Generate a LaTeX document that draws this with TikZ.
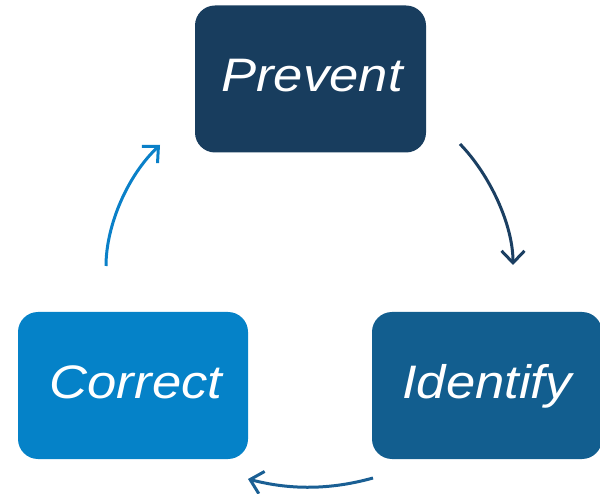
\documentclass[tikz,border=0pt]{standalone}
\usepackage{fontspec}
\setmainfont{Liberation Sans}
\newfontfamily\stagefont[FakeStretch=1.12]{Liberation Sans}
\usetikzlibrary{arrows.meta}
\definecolor{cPrevent}{HTML}{183D5E}
\definecolor{cIdentify}{HTML}{125E8F}
\definecolor{cCorrect}{HTML}{0582C8}
\definecolor{aPrevent}{HTML}{1B3F62}
\definecolor{aIdentify}{HTML}{1A5F94}
\definecolor{aCorrect}{HTML}{0A80C8}
\tikzset{
  stagebox/.style={rectangle, rounded corners=20pt, inner sep=0pt,
    minimum height=147pt, text=white,
    font=\stagefont\fontsize{47}{50}\selectfont\itshape,
    text height=34pt, text depth=8pt},
  cyclearrow/.style={line width=3pt,
    -{Straight Barb[length=12pt,width=23pt,line width=3pt]}},
}
\begin{document}
\begin{tikzpicture}[x=1pt,y=-1pt]
\useasboundingbox (0,0) rectangle (600,494);
\node[stagebox, fill=cPrevent, minimum width=231pt] (prevent) at (310.5,79) {\hspace*{3pt}Prevent};
\node[stagebox, fill=cCorrect, minimum width=230pt] (correct) at (133,385.5) {\hspace*{6pt}Correct};
\node[stagebox, fill=cIdentify, minimum width=230pt] (identify) at (487,385.5) {Identify};
\coordinate (p1) at (460,144);
\coordinate (i1) at (513,265);
\coordinate (i2) at (373,478);
\coordinate (c1) at (248,479);
\coordinate (c2) at (106,266);
\coordinate (p2) at (160,145);
\draw[cyclearrow, aPrevent] (p1) .. controls (490,175) and (513,225) .. (i1);
\draw[cyclearrow, aIdentify] (i2) .. controls (330,490) and (290,490) .. (c1);
\draw[cyclearrow, aCorrect] (c2) .. controls (106,225) and (128,175) .. (p2);
\end{tikzpicture}
\end{document}
